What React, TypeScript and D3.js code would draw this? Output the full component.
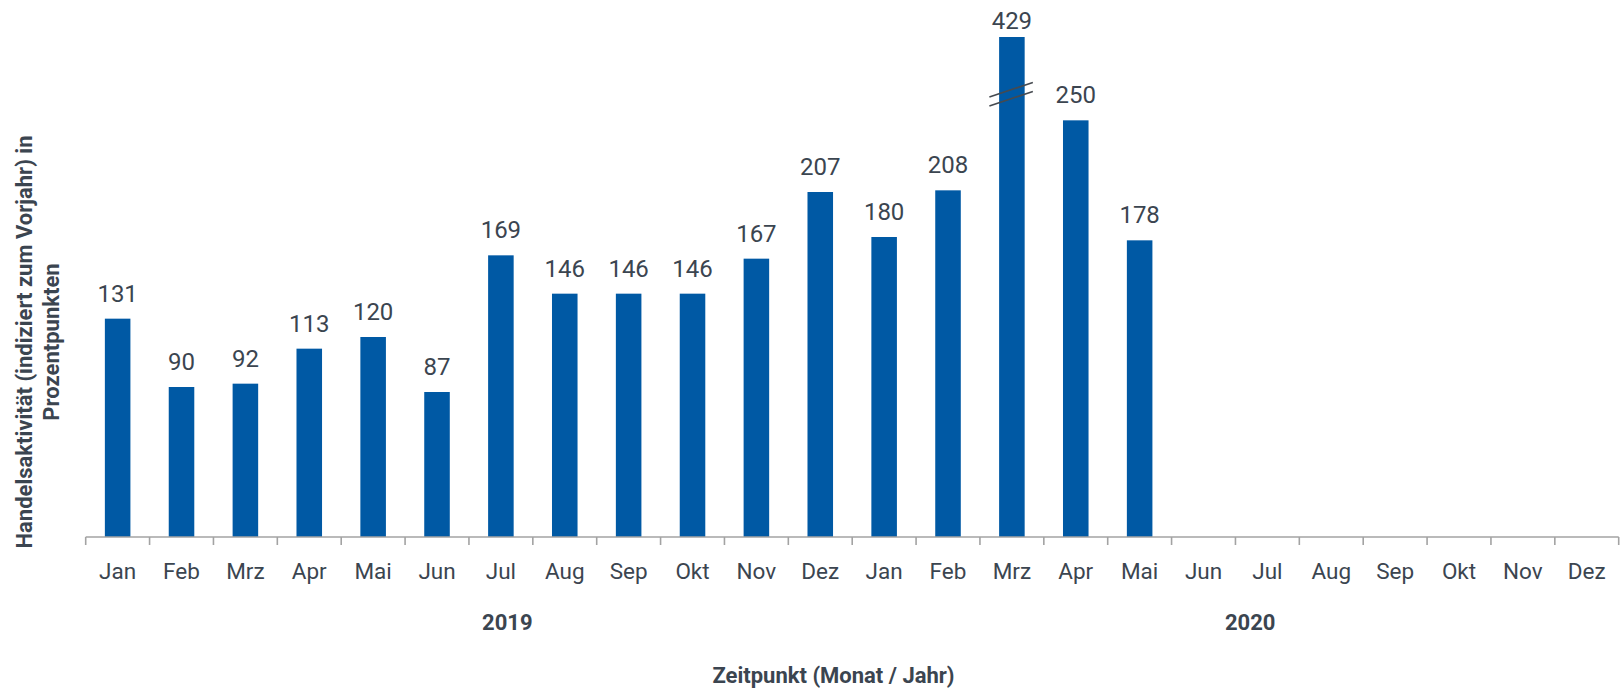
import React, { useEffect } from "react";
import * as d3 from "d3";

const months = ["Jan", "Feb", "Mrz", "Apr", "Mai", "Jun", "Jul", "Aug", "Sep", "Okt", "Nov", "Dez"];
const years = ["2019", "2020"];
const values2019: (number | null)[] = [131, 90, 92, 113, 120, 87, 169, 146, 146, 146, 167, 207];
const values2020: (number | null)[] = [180, 208, 429, 250, 178, null, null, null, null, null, null, null];
const axisCap = 300; // displayed bars above this value are drawn broken
const breakValue = 265.5;

const yTitleLines = ["Handelsaktivität (indiziert zum Vorjahr) in", "Prozentpunkten"];
const xTitle = "Zeitpunkt (Monat / Jahr)";

const W = 1623;
const H = 688;
const BAR = "#0059A4";
const TEXT = "#3B4550";
const AXIS = "#A3A3A3";
const FONT = "Roboto, 'Noto Sans', sans-serif";

export default function App() {
  useEffect(() => {
    document.body.style.margin = "0";
  }, []);

  const data = [
    ...months.map((m, i) => ({ key: `${m}-2019`, month: m, value: values2019[i] })),
    ...months.map((m, i) => ({ key: `${m}-2020`, month: m, value: values2020[i] })),
  ];

  const x0 = 85.7;
  const x1 = 1618.7;
  const x = d3
    .scaleBand<string>()
    .domain(data.map((d) => d.key))
    .range([x0, x1])
    .paddingInner(0.6)
    .paddingOuter(0.3);
  const step = x.step();
  const bw = x.bandwidth();

  const y = d3.scaleLinear().domain([0, axisCap]).range([537, 37]);
  const baseY = y(0);

  const tickXs = d3.range(data.length + 1).map((k) => x0 + k * step);

  const yearX = [x0 + step * 6.6, x0 + step * 18.23];

  return (
    <svg width={W} height={H} style={{ display: "block" }} fontFamily={FONT}>
      <rect width={W} height={H} fill="#fff" />
      {/* bars */}
      {data.map((d) =>
        d.value == null ? null : (
          <rect
            key={d.key}
            x={x(d.key)}
            y={y(Math.min(d.value, axisCap))}
            width={bw}
            height={baseY - y(Math.min(d.value, axisCap))}
            fill={BAR}
          />
        )
      )}
      {/* break marks */}
      {data.map((d) => {
        if (d.value == null || d.value <= axisCap) return null;
        const cx = (x(d.key) as number) + bw / 2;
        const cy = y(breakValue);
        return (
          <g key={"br" + d.key} stroke="#454a50" strokeWidth={1.6}>
            <line x1={cx - 22.5} y1={cy + 2.5} x2={cx + 21} y2={cy - 12} />
            <line x1={cx - 22.5} y1={cy + 11.5} x2={cx + 21} y2={cy - 3} />
          </g>
        );
      })}
      {/* value labels */}
      {data.map((d) =>
        d.value == null ? null : (
          <text
            key={"v" + d.key}
            x={(x(d.key) as number) + bw / 2}
            y={d.value > axisCap ? y(axisCap) - 8.5 : y(d.value) - 17}
            textAnchor="middle"
            fontSize={24}
            fill={TEXT}
          >
            {d.value}
          </text>
        )
      )}
      {/* x axis */}
      <line x1={x0} x2={x1} y1={baseY} y2={baseY} stroke={AXIS} strokeWidth={1.6} />
      {tickXs.map((tx, i) => (
        <line key={"t" + i} x1={tx} x2={tx} y1={baseY} y2={baseY + 8} stroke={AXIS} strokeWidth={1.6} />
      ))}
      {data.map((d) => (
        <text
          key={"m" + d.key}
          x={(x(d.key) as number) + bw / 2}
          y={579}
          textAnchor="middle"
          fontSize={22.5}
          fill={TEXT}
        >
          {d.month}
        </text>
      ))}
      {years.map((yr, i) => (
        <text key={yr} x={yearX[i]} y={629.5} textAnchor="middle" fontSize={22} fontWeight="bold" fill={TEXT}>
          {yr}
        </text>
      ))}
      <text x={833.5} y={683} textAnchor="middle" fontSize={22} fontWeight="bold" fill={TEXT}>
        {xTitle}
      </text>
      <g transform="translate(0,342) rotate(-90)">
        {yTitleLines.map((l, i) => (
          <text key={l} x={0} y={32 + i * 27} textAnchor="middle" fontSize={22} fontWeight="bold" fill={TEXT}>
            {l}
          </text>
        ))}
      </g>
    </svg>
  );
}
